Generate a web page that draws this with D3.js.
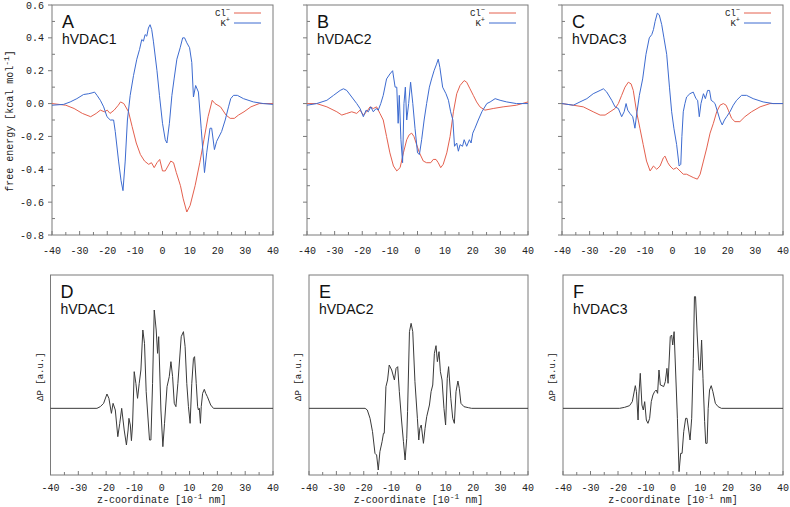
<!DOCTYPE html>
<html><head><meta charset="utf-8">
<script src="https://cdn.jsdelivr.net/npm/d3@7"></script>
<style>body{margin:0;background:#fff}svg{display:block}</style>
</head><body>
<svg id="c" width="790" height="507"></svg>
<script>
// ---------- data ----------
const xTicks = [-40,-30,-20,-10,0,10,20,30,40];
const yTicksTop = [0.6,0.4,0.2,0.0,-0.2,-0.4,-0.6,-0.8];
const yTickLabelsTop = ["0.6","0.4","0.2","0.0","-0.2","-0.4","-0.6","-0.8"];
const panelLetters = ["A","B","C","D","E","F"];
const proteins = ["hVDAC1","hVDAC2","hVDAC3"];
const legendNames = ["Cl","K"];

const clA = [[-40,0.0],[-35,-0.01],[-32,-0.03],[-29,-0.06],[-26,-0.08],[-24,-0.06],[-22.5,-0.04],[-21,-0.05],[-20,-0.04],[-19,-0.06],[-17.5,-0.04],[-16,-0.01],[-15.2,0.01],[-14,0.0],[-12.3,-0.05],[-11,-0.14],[-9.5,-0.24],[-8,-0.31],[-6.5,-0.35],[-5,-0.37],[-4,-0.36],[-3,-0.39],[-2,-0.36],[-1,-0.34],[0,-0.41],[1,-0.41],[2,-0.38],[3,-0.35],[4,-0.36],[5,-0.42],[6.5,-0.5],[7.5,-0.58],[8.8,-0.66],[10,-0.62],[11.8,-0.5],[13.5,-0.36],[15,-0.22],[16.5,-0.08],[18,0.02],[19,0.0],[21,-0.02],[23,-0.07],[24.5,-0.09],[26,-0.09],[27.5,-0.07],[29.5,-0.05],[32,-0.02],[35,0.0],[40,0.0]];
const kA = [[-40,-0.01],[-35.8,-0.005],[-33.4,0.01],[-31,0.03],[-28.6,0.055],[-26.7,0.06],[-25.5,0.065],[-24.6,0.07],[-23.7,0.05],[-22.5,0.02],[-21.3,-0.02],[-20.1,-0.08],[-18.9,-0.1],[-17.7,-0.1],[-17.1,-0.17],[-15.9,-0.35],[-15,-0.47],[-14.3,-0.53],[-13.5,-0.35],[-12.7,-0.1],[-11.7,0.05],[-10.5,0.17],[-9.3,0.27],[-8.3,0.33],[-7.5,0.39],[-6.9,0.38],[-6.3,0.42],[-5.7,0.41],[-5.1,0.46],[-4.5,0.48],[-3.9,0.45],[-3.3,0.38],[-2,0.2],[-1.1,0.05],[0,-0.12],[1,-0.22],[1.6,-0.24],[2.5,-0.12],[3.4,0.05],[4.2,0.15],[5.2,0.27],[6.4,0.34],[7.3,0.40],[8,0.4],[8.8,0.37],[9.8,0.34],[10.6,0.25],[11.2,0.04],[12,0.11],[13,0.07],[14,-0.15],[15.2,-0.42],[16,-0.3],[17.2,-0.15],[17.8,-0.15],[18.8,-0.28],[19.6,-0.23],[21.4,-0.17],[22.7,-0.1],[23.9,-0.02],[24.7,0.03],[25.7,0.05],[27.1,0.05],[29.3,0.03],[32.9,0.01],[36.5,0.0],[40,-0.005]];

const clB = [[-40,0.0],[-36.5,0.0],[-32.8,-0.02],[-29.2,-0.05],[-27.4,-0.07],[-25.6,-0.06],[-23.8,-0.05],[-22,-0.06],[-20.8,-0.04],[-19.6,-0.07],[-18.4,-0.05],[-17.2,-0.02],[-16,-0.03],[-14.8,-0.02],[-13.6,-0.06],[-12.4,-0.1],[-11.2,-0.2],[-10,-0.3],[-8.7,-0.38],[-7.5,-0.41],[-6.3,-0.39],[-5.1,-0.3],[-3.9,-0.22],[-3,-0.19],[-2.1,-0.18],[-1.3,-0.2],[-0.3,-0.25],[0.7,-0.3],[2.1,-0.35],[3.3,-0.36],[4.8,-0.36],[5.7,-0.34],[6.7,-0.34],[7.5,-0.36],[8.4,-0.39],[9.3,-0.37],[10.6,-0.3],[11.8,-0.2],[13,-0.05],[14.2,0.06],[15.4,0.11],[16.9,0.14],[17.8,0.13],[19,0.09],[20.2,0.05],[21.4,0.01],[22.6,-0.02],[24.4,-0.04],[27.4,-0.03],[31,-0.02],[35.8,-0.01],[40,0.01]];
const kB = [[-40,-0.01],[-36.5,0.0],[-32.8,0.02],[-30.4,0.05],[-28,0.08],[-26.8,0.09],[-25.6,0.08],[-23.8,0.04],[-22,0.0],[-20.8,-0.03],[-19.6,-0.08],[-18.6,-0.04],[-17.8,-0.05],[-16.9,-0.02],[-16,-0.05],[-15,-0.03],[-14.2,-0.04],[-13.3,0.0],[-12.4,0.05],[-11.2,0.15],[-10,0.18],[-9,0.2],[-8.1,0.1],[-7.5,0.1],[-7,-0.12],[-6.6,0.05],[-6,-0.22],[-5.4,-0.36],[-4.9,0.0],[-4.4,0.1],[-3.9,-0.1],[-3.2,0.0],[-2.5,0.13],[-1.7,0.0],[-0.9,-0.15],[0,-0.3],[0.7,-0.31],[1.5,-0.22],[2.4,-0.1],[3.3,0.0],[4.3,0.1],[5.1,0.15],[6,0.2],[6.9,0.24],[7.5,0.27],[8.1,0.22],[9.1,0.1],[10.3,0.06],[11.2,0.02],[12,-0.05],[12.8,-0.1],[13.4,-0.26],[14.2,-0.24],[14.8,-0.29],[15.4,-0.25],[16.3,-0.26],[16.9,-0.22],[17.8,-0.26],[18.8,-0.22],[19.4,-0.24],[20,-0.18],[20.8,-0.15],[22,-0.1],[23.3,-0.05],[25.1,0.0],[26.3,0.01],[28.1,0.03],[29.9,0.02],[32.3,0.01],[35.8,0.0],[40,0.0]];

const clC = [[-40,0.0],[-35.9,-0.01],[-32.3,-0.02],[-28.7,-0.05],[-26.2,-0.07],[-24.4,-0.07],[-22.6,-0.05],[-20.8,-0.03],[-19.6,0.0],[-18.4,0.05],[-17.2,0.1],[-16,0.13],[-15,0.12],[-14.2,0.08],[-13,-0.05],[-11.8,-0.15],[-10.6,-0.25],[-9.4,-0.35],[-8.1,-0.41],[-6.9,-0.38],[-5.7,-0.4],[-4.5,-0.38],[-3.3,-0.33],[-2.7,-0.32],[-1.7,-0.36],[-0.9,-0.38],[0.3,-0.4],[1.5,-0.39],[2.7,-0.41],[3.9,-0.43],[5.1,-0.43],[6.3,-0.44],[7.5,-0.45],[9,-0.46],[10,-0.43],[11.2,-0.35],[12.4,-0.27],[13.6,-0.18],[14.8,-0.12],[16,-0.05],[17.2,-0.01],[18.4,0.0],[19.4,-0.01],[20.2,-0.04],[21.4,-0.09],[22.6,-0.11],[24.4,-0.11],[26.2,-0.08],[28.6,-0.05],[31.7,-0.02],[35.3,0.0],[40,0.0]];
const kC = [[-40,0.0],[-35.9,-0.01],[-33.5,0.01],[-31,0.03],[-28.7,0.06],[-26.2,0.08],[-25,0.09],[-23.8,0.07],[-22,0.02],[-20.8,-0.02],[-19.6,-0.03],[-18.4,-0.08],[-17.5,-0.05],[-16.8,0.0],[-16.2,-0.04],[-15.4,-0.06],[-14.4,-0.08],[-13.6,-0.15],[-13,-0.07],[-12,0.05],[-10.8,0.15],[-9.6,0.3],[-8.4,0.4],[-7.5,0.42],[-6.9,0.45],[-6.3,0.5],[-5.5,0.55],[-4.8,0.54],[-3.9,0.48],[-3.1,0.4],[-2.1,0.3],[-1.1,0.1],[-0.3,-0.05],[0.5,-0.15],[1.5,-0.25],[2.4,-0.38],[3,-0.37],[3.4,-0.2],[3.9,-0.05],[4.5,0.0],[5.1,0.04],[6.3,0.06],[7.5,0.07],[8.5,0.03],[9.1,0.02],[9.7,-0.08],[10.3,0.0],[11.2,0.06],[11.9,0.03],[12.7,0.08],[13.4,0.08],[14,0.02],[14.8,0.01],[15.4,0.0],[16.3,-0.05],[17.2,-0.1],[18,-0.13],[18.8,-0.1],[19.6,-0.08],[20.8,-0.05],[22,-0.01],[23.2,0.02],[25,0.05],[26.8,0.05],[29.2,0.03],[32.8,0.01],[36.4,0.0],[40,0.0]];

const dpD = [[-40,0],[-23.3,0],[-22.1,0.05],[-20.9,0.15],[-19.7,0.43],[-19.0,0.30],[-18.1,-0.15],[-17.5,0.15],[-16.7,-0.05],[-15.8,-0.85],[-15.1,-0.45],[-14.4,0.0],[-13.5,-0.65],[-12.7,-1.1],[-12.1,-0.65],[-11.8,-0.3],[-11.3,-0.5],[-10.9,-0.97],[-10.5,-0.5],[-9.9,1.1],[-9.3,0.75],[-8.7,0.3],[-8.1,0.75],[-7.5,1.15],[-6.8,2.35],[-6.2,1.95],[-5.6,0.5],[-4.4,-0.95],[-3.9,-0.95],[-3.3,0.75],[-2.7,2.95],[-2.0,2.35],[-1.5,1.65],[-1.1,2.15],[-0.3,-0.05],[0.4,-1.15],[1.0,-0.45],[1.9,0.65],[2.7,0.95],[3.3,1.4],[3.9,0.95],[4.5,0.15],[5.1,0.05],[5.8,0.75],[6.4,1.45],[7.0,2.15],[7.8,2.3],[8.4,1.85],[9.0,0.75],[9.6,0.05],[10.2,-0.45],[10.8,0.75],[11.4,1.5],[11.8,1.55],[12.4,0.75],[12.9,0.05],[13.2,-0.05],[13.5,0.0],[13.9,-0.45],[14.2,0.05],[14.7,0.45],[15.3,0.57],[15.8,0.45],[16.4,0.35],[17.6,0.1],[18.6,0],[40,0]];
const dpE = [[-40,0],[-19.5,0],[-18.7,-0.05],[-17.7,-0.3],[-16.8,-0.7],[-15.9,-1.35],[-15.3,-1.4],[-14.7,-1.85],[-14.1,-1.3],[-13.3,-1.0],[-12.8,-0.75],[-12.5,-0.75],[-11.9,0.65],[-11.3,0.85],[-10.7,1.3],[-9.8,1.15],[-8.8,0.85],[-8.2,1.2],[-7.6,1.25],[-7.0,0.5],[-6.2,-0.35],[-5.5,-1.0],[-4.9,-1.55],[-4.3,-0.9],[-4.0,-0.1],[-3.3,2.3],[-2.7,2.55],[-2.1,2.3],[-1.3,0.8],[-0.4,-0.3],[0.1,-0.95],[0.5,-0.6],[1.0,-0.5],[1.8,-1.05],[2.4,-0.6],[3.0,-0.25],[4.0,0.1],[4.6,0.5],[5.2,0.7],[5.8,1.65],[6.4,1.88],[6.9,1.4],[7.5,1.7],[8.0,1.1],[8.6,0.85],[9.3,0.0],[9.9,-0.5],[10.5,0.9],[11.0,1.25],[11.8,0.3],[12.5,-0.3],[13.1,-0.45],[13.7,0.5],[14.4,0.82],[14.9,0.6],[15.5,0.15],[16.6,0.05],[18.2,0.02],[19.4,0],[40,0]];
const dpF = [[-40,0],[-19.4,0],[-17.6,0.03],[-15.8,0.08],[-14.8,0.2],[-13.7,0.68],[-13.3,0.5],[-12.7,-0.35],[-12.4,0.4],[-11.9,1.05],[-11.3,0.1],[-10.8,-0.05],[-10.3,0.2],[-9.7,-0.35],[-9.1,-0.45],[-8.5,-0.3],[-7.9,0.2],[-7.3,0.4],[-6.7,0.5],[-6.1,0.55],[-5.6,0.45],[-5.1,1.15],[-4.6,0.7],[-4.0,0.68],[-3.4,0.65],[-2.8,0.8],[-2.2,1.2],[-1.8,0.75],[-1.3,1.6],[-1.0,2.15],[-0.5,2.2],[-0.1,1.9],[0.4,2.3],[1.0,1.0],[1.6,-0.3],[2.2,-1.9],[2.8,-1.35],[3.3,-1.35],[3.9,-0.7],[4.6,-0.3],[5.1,-0.3],[5.7,-0.65],[6.2,-0.95],[6.8,-0.3],[7.4,1.5],[7.8,3.35],[8.2,3.35],[8.8,2.2],[9.5,1.15],[9.9,1.15],[10.4,2.05],[10.9,0.9],[11.5,-0.4],[11.9,-1.05],[12.4,-1.05],[12.8,0.0],[13.3,0.55],[13.9,0.68],[14.5,0.5],[15.4,0.15],[16.4,0.05],[17.6,0],[40,0]];

// ---------- drawing ----------
const svg = d3.select("#c");
const mono = "'Liberation Mono','DejaVu Sans Mono',monospace";
const sans = "'Liberation Sans',Arial,sans-serif";
const frameCol = "#7a7a7a";
const red = "#e4604e", blue = "#3d6bd0";

function xTicksDraw(g, x, yB, yLabel) {
  const minors = d3.range(-35, 40, 10);
  xTicks.forEach(t => g.append("line").attr("x1", x(t)).attr("x2", x(t)).attr("y1", yB).attr("y2", yB - 4).attr("stroke", frameCol));
  minors.forEach(t => g.append("line").attr("x1", x(t)).attr("x2", x(t)).attr("y1", yB).attr("y2", yB - 3).attr("stroke", frameCol));
  xTicks.forEach(t => g.append("text").attr("x", x(t)).attr("y", yLabel).attr("text-anchor", "middle")
    .attr("font-family", mono).attr("font-size", 10).attr("fill", "#222").text(t));
}

function frame(g, x0, x1, y0, y1) {
  g.append("rect").attr("x", x0).attr("y", y0).attr("width", x1 - x0).attr("height", y1 - y0)
    .attr("fill", "none").attr("stroke", frameCol).attr("stroke-width", 1);
}

function labels(g, x0, y0, letter, name) {
  g.append("text").attr("x", x0 + 10).attr("y", y0 + 23).attr("font-family", sans).attr("font-size", 18).attr("fill", "#111").text(letter);
  g.append("text").attr("x", x0 + 10).attr("y", y0 + 39).attr("font-family", sans).attr("font-size", 14).attr("fill", "#111").text(name);
}

// top row
const topX = [[52,273],[307,528],[562,783]];
const topY0 = 5, topY1 = 235;
const clSeries = [clA, clB, clC], kSeries = [kA, kB, kC];
const yTop = d3.scaleLinear().domain([-0.8, 0.6]).range([topY1, topY0]);

topX.forEach(([x0, x1], i) => {
  const g = svg.append("g");
  const x = d3.scaleLinear().domain([-40, 40]).range([x0, x1]);
  frame(g, x0, x1, topY0, topY1);
  xTicksDraw(g, x, topY1, 254);
  yTicksTop.forEach(t => g.append("line").attr("x1", x0 - 4).attr("x2", x0).attr("y1", yTop(t)).attr("y2", yTop(t)).attr("stroke", frameCol));
  d3.range(-0.7, 0.6, 0.2).forEach(t => g.append("line").attr("x1", x0).attr("x2", x0 + 3).attr("y1", yTop(t)).attr("y2", yTop(t)).attr("stroke", frameCol));
  if (i === 0) {
    yTicksTop.forEach((t, j) => g.append("text").attr("x", x0 - 8).attr("y", yTop(t) + 3.5).attr("text-anchor", "end")
      .attr("font-family", mono).attr("font-size", 10).attr("fill", "#222").text(yTickLabelsTop[j]));
  }
  const line = d3.line().x(d => x(d[0])).y(d => yTop(d[1]));
  g.append("path").datum(clSeries[i]).attr("d", line).attr("fill", "none").attr("stroke", red).attr("stroke-width", 1);
  g.append("path").datum(kSeries[i]).attr("d", line).attr("fill", "none").attr("stroke", blue).attr("stroke-width", 1);
  labels(g, x0, topY0, panelLetters[i], proteins[i]);
  const lx = x1 - 43;
  const t1 = g.append("text").attr("x", lx).attr("y", 16).attr("text-anchor", "end").attr("font-family", mono).attr("font-size", 9).attr("fill", "#222");
  t1.append("tspan").text(legendNames[0]);
  t1.append("tspan").attr("dy", -4).attr("font-size", 7).text("\u2212");
  const t2 = g.append("text").attr("x", lx).attr("y", 26).attr("text-anchor", "end").attr("font-family", mono).attr("font-size", 9).attr("fill", "#222");
  t2.append("tspan").text(legendNames[1]);
  t2.append("tspan").attr("dy", -4).attr("font-size", 7).text("+");
  g.append("line").attr("x1", x1 - 39).attr("x2", x1 - 12).attr("y1", 13).attr("y2", 13).attr("stroke", red);
  g.append("line").attr("x1", x1 - 39).attr("x2", x1 - 12).attr("y1", 23).attr("y2", 23).attr("stroke", blue);
});

const yt = svg.append("text").attr("transform", "translate(13,121) rotate(-90)").attr("text-anchor", "middle")
  .attr("font-family", mono).attr("font-size", 10).attr("fill", "#222");
yt.append("tspan").text("free energy [kcal mol");
yt.append("tspan").attr("dy", -4).attr("font-size", 8).text("-1");
yt.append("tspan").attr("dy", 4).text("]");

// bottom row
const botX = [[50.5,273],[309,528],[563,783]];
const botY0 = 275, botY1 = 475;
const dpSeries = [dpD, dpE, dpF];
const yBot = d3.scaleLinear().domain([-2, 4]).range([botY1, botY0]);

botX.forEach(([x0, x1], i) => {
  const g = svg.append("g");
  const x = d3.scaleLinear().domain([-40, 40]).range([x0, x1]);
  frame(g, x0, x1, botY0, botY1);
  xTicksDraw(g, x, botY1, 491);
  const line = d3.line().x(d => x(d[0])).y(d => yBot(d[1]));
  g.append("path").datum(dpSeries[i]).attr("d", line).attr("fill", "none").attr("stroke", "#3a3a3a").attr("stroke-width", 1);
  labels(g, x0, botY0, panelLetters[i + 3], proteins[i]);
  g.append("text").attr("transform", `translate(${x0 - 8},${yBot(0.95)}) rotate(-90)`).attr("text-anchor", "middle")
    .attr("font-family", mono).attr("font-size", 9).attr("fill", "#222").text("\u0394P [a.u.]");
  const xt = g.append("text").attr("x", (x0 + x1) / 2).attr("y", 503).attr("text-anchor", "middle")
    .attr("font-family", mono).attr("font-size", 10).attr("fill", "#222");
  xt.append("tspan").text("z-coordinate [10");
  xt.append("tspan").attr("dy", -4).attr("font-size", 8).text("-1");
  xt.append("tspan").attr("dy", 4).text(" nm]");
});
</script>
</body></html>
